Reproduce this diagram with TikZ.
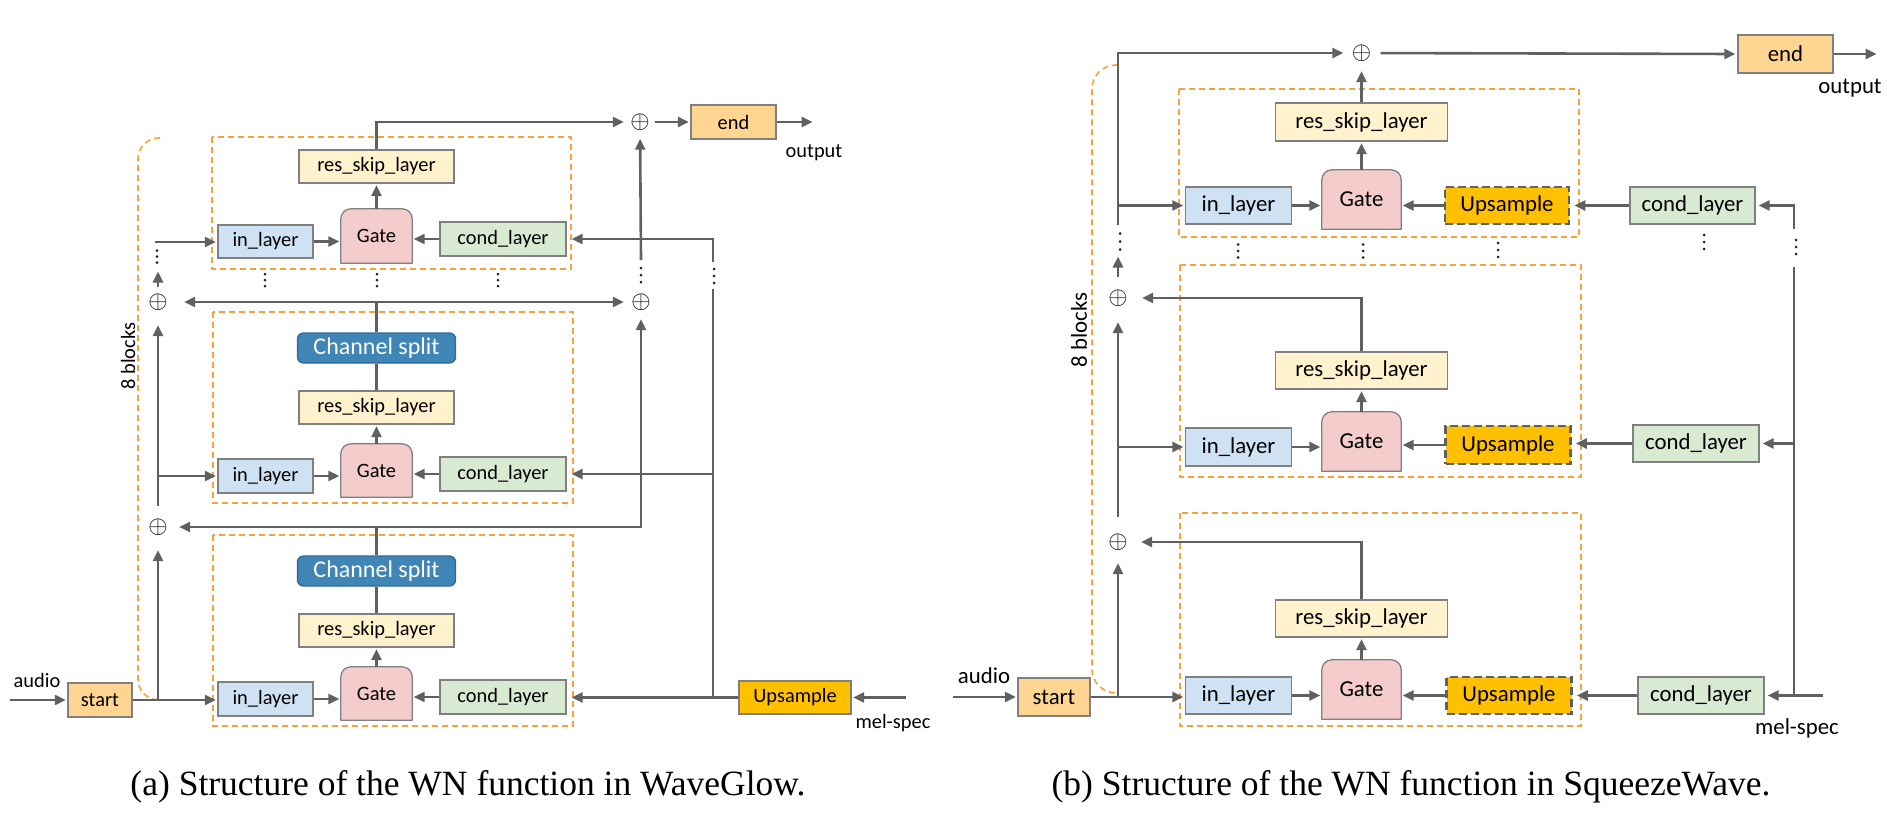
\documentclass[tikz,border=0pt]{standalone}
\usepackage{fontspec}
\setmainfont{Carlito}
\newfontfamily\capfont{Liberation Serif}
\usetikzlibrary{arrows.meta,backgrounds,calc}
\definecolor{conn}{HTML}{606060}
\definecolor{bord}{HTML}{808080}
\definecolor{inc}{HTML}{CFE2F3}
\definecolor{gatec}{HTML}{F4CCCC}
\definecolor{condc}{HTML}{D9EAD3}
\definecolor{resc}{HTML}{FFF2CC}
\definecolor{startc}{HTML}{FFD591}
\definecolor{upc}{HTML}{FFC000}
\definecolor{csc}{HTML}{3F85B5}
\definecolor{csb}{HTML}{2E6A96}
\definecolor{orng}{HTML}{F7A23A}
\definecolor{dotc}{HTML}{222222}
\newcommand{\gateshape}[1]{%
  \begin{pgfonlayer}{background}
  \draw[draw=bord, line width=1.3pt, fill=gatec, line join=round]
    (#1.south west) -- ([yshift=-10pt]#1.north west)
    .. controls ([yshift=-4.5pt]#1.north west) and ([xshift=4.5pt]#1.north west) .. ([xshift=10pt]#1.north west)
    -- ([xshift=-10pt]#1.north east)
    .. controls ([xshift=-4.5pt]#1.north east) and ([yshift=-4.5pt]#1.north east) .. ([yshift=-10pt]#1.north east)
    -- (#1.south east) -- cycle;
  \end{pgfonlayer}}
\newcommand{\vd}[3]{\fill[dotc] (#1,#2-#3) circle[radius=1.5pt] (#1,#2) circle[radius=1.5pt] (#1,#2+#3) circle[radius=1.5pt];}
\begin{document}
\begin{tikzpicture}[x=1pt,y=-1pt,
  conline/.style={draw=conn, line width=2.6pt},
  arr/.style={conline, -{Triangle[length=11pt,width=10pt]}, shorten >=1.5pt},
  blk/.style={draw=bord, line width=1.3pt, inner sep=0pt, text=black},
  sz/.style 2 args={minimum width=#1pt, minimum height=#2pt},
  inl/.style={blk, fill=inc},
  cnd/.style={blk, fill=condc},
  rsl/.style={blk, fill=resc},
  stt/.style={blk, fill=startc},
  ups/.style={blk, fill=upc},
  upd/.style={inner sep=0pt, fill=upc, draw=conn, line width=2.6pt, dash pattern=on 8pt off 4pt},
  gte/.style={inner sep=0pt},
  chs/.style={inner sep=0pt, fill=csc, draw=csb, line width=1.3pt, rounded corners=6pt, text=white, font=\fontsize{24pt}{28pt}\selectfont},
  pls/.style={circle, inner sep=0pt, minimum size=30pt, font=\fontsize{24pt}{28pt}\selectfont},
  odash/.style={draw=orng, line width=1.6pt, dash pattern=on 6pt off 4pt},
  lbl/.style={inner sep=0pt},
  fa/.style={font=\fontsize{20.4pt}{24pt}\selectfont},
  fb/.style={font=\fontsize{22.8pt}{27pt}\selectfont},
  captxt/.style={inner sep=0pt, anchor=base, font=\capfont\fontsize{35.5pt}{40pt}\selectfont}
]
\useasboundingbox (0,0) rectangle (1887,815);

% ================= (a) WaveGlow =================
\draw[odash] (212,137) rectangle (571,269);
\draw[odash] (213,312) rectangle (573,503);
\draw[odash] (213,535) rectangle (573,726);
\draw[odash, rounded corners=21pt] (160,138) -- (138,138) -- (138,700) -- (160,700);

\node[stt,fa,sz={64}{34}] (startA) at (100,700) {start};
\node[stt,fa,sz={85}{34}] (endA) at (733.5,122) {end};
\node[pls] (plA0) at (640,122) {$\oplus$};
\node[pls] (plA1) at (158,302) {$\oplus$};
\node[pls] (plA2) at (158,527) {$\oplus$};
\node[pls] (plA3) at (641,302) {$\oplus$};

\node[inl,fa,sz={95}{33}] (inA1) at (265.5,241.5) {in\_layer};
\node[gte,fa,sz={71}{54}] (gA1) at (376.5,236) {Gate};
\node[cnd,fa,sz={126}{34}] (cdA1) at (503,239) {cond\_layer};
\node[rsl,fa,sz={155}{33}] (rA1) at (376.5,166.5) {res\_skip\_layer};

\node[chs,sz={158}{30}] (csA2) at (376.5,348) {Channel split};
\node[rsl,fa,sz={155}{33}] (rA2) at (376.5,407.5) {res\_skip\_layer};
\node[gte,fa,sz={71}{53}] (gA2) at (376.5,470.5) {Gate};
\node[inl,fa,sz={95}{34}] (inA2) at (265.5,476) {in\_layer};
\node[cnd,fa,sz={126}{34}] (cdA2) at (503,474) {cond\_layer};

\node[chs,sz={158}{30}] (csA3) at (376.5,571) {Channel split};
\node[rsl,fa,sz={155}{33}] (rA3) at (376.5,630.5) {res\_skip\_layer};
\node[gte,fa,sz={71}{53}] (gA3) at (376.5,693.5) {Gate};
\node[inl,fa,sz={95}{34}] (inA3) at (265.5,699) {in\_layer};
\node[cnd,fa,sz={126}{34}] (cdA3) at (503,697) {cond\_layer};
\node[ups,fa,sz={112}{33}] (upA) at (795,697.5) {Upsample};

\gateshape{gA1}\gateshape{gA2}\gateshape{gA3}

\node[lbl,fa] (audioA) at (37,680) {audio};
\node[lbl,fa] (outputA) at (814,153) {output};
\node[lbl,fa] (melA) at (893,723) {mel-spec};
\node[lbl,fa,rotate=90] (blkA) at (128,356) {8 blocks};

\coordinate (audA) at (10,700);
\coordinate (outA) at (814,122);
\coordinate (melinA) at (906,697.5);
\coordinate (jA1) at (158,700);
\coordinate (tA1) at (158,270);
\coordinate (cA1) at (155,242);
\coordinate (tA3) at (641,260);
\coordinate (jA2) at (713,697.5);
\coordinate (tA4) at (713,289);
\coordinate (tA5) at (713,262);

\draw[arr] (audA) -- (startA.west);
\draw[arr] (startA.east) -- (startA.east -| inA3.west);
\draw[arr, shorten >=8pt] (jA1) -- (plA2);
\draw[arr, shorten <=6pt, shorten >=8pt] (plA2) -- (plA1);
\draw[arr] (plA2 |- inA2) -- (inA2.west);
\draw[arr] (plA1) -- (tA1);
\draw[arr] (cA1) -- (cA1 -| inA1.west);

\foreach \k in {1,2,3}{
  \draw[arr] (inA\k.east) -- (inA\k.east -| gA\k.west);
  \draw[arr] (cdA\k.west) -- (cdA\k.west -| gA\k.east);
  \draw[arr] (gA\k.north) -- (rA\k.south);
}
\draw[arr, shorten >=1pt] (rA1.north) |- (plA0);
\draw[arr] (plA0) -- (endA.west);
\draw[arr] (endA.east) -- (outA);

\draw[conline] (rA2.north) -- (csA2.south);
\draw[conline] (csA2.north) -- (csA2.north |- plA1);
\draw[arr, shorten >=11pt] (csA2.north |- plA1) -- (plA1);
\draw[arr, shorten >=2pt] (csA2.north |- plA1) -- (plA3);

\draw[conline] (rA3.north) -- (csA3.south);
\draw[conline] (csA3.north) -- (csA3.north |- plA2);
\draw[arr, shorten >=6pt] (csA3.north |- plA2) -- (plA2);
\draw[arr, shorten >=2pt] (csA3.north |- plA2) -| (plA3);
\draw[arr] (tA3) -- (plA0);

\draw[arr] (melinA) -- (upA.east);
\draw[arr, shorten >=5pt] (upA.west) -- (upA.west -| cdA3.east);
\draw[conline] (jA2) -- (tA4);
\draw[arr, shorten >=5pt] (jA2 |- cdA2) -- (cdA2.east);
\draw[arr, shorten >=5pt] (tA5) |- (cdA1.east);

\vd{157}{256.5}{6}
\vd{265}{280}{6}\vd{377}{280}{6}\vd{498}{280}{6}
\vd{641}{275}{7}\vd{714}{276}{7}

\node[captxt] (capA) at (468,795) {(a) Structure of the WN function in WaveGlow.};

% ================= (b) SqueezeWave =================
\draw[odash] (1179,89) rectangle (1579,237);
\draw[odash] (1180,265) rectangle (1581,477);
\draw[odash] (1180,513) rectangle (1581,726);
\draw[odash, rounded corners=24pt] (1118,65) -- (1092,65) -- (1092,693) -- (1118,693);

\node[stt,fb,sz={72}{38}] (startB) at (1054,697) {start};
\node[stt,fb,sz={95}{38}] (endB) at (1785.5,54) {end};
\node[pls] (plB0) at (1361.5,53) {$\oplus$};
\node[pls] (plB1) at (1118,298) {$\oplus$};
\node[pls] (plB2) at (1118,542) {$\oplus$};

\node[rsl,fb,sz={172}{38}] (rB1) at (1361.5,122) {res\_skip\_layer};
\node[inl,fb,sz={106}{37}] (inB1) at (1238.5,205.5) {in\_layer};
\node[gte,fb,sz={79}{59}] (gB1) at (1361.5,199.5) {Gate};
\node[upd,fb,sz={124}{37}] (upB1) at (1507,205.5) {Upsample};
\node[cnd,fb,sz={125}{37}] (cdB1) at (1692.5,205.5) {cond\_layer};

\node[rsl,fb,sz={172}{37}] (rB2) at (1361.5,370.5) {res\_skip\_layer};
\node[gte,fb,sz={79}{59}] (gB2) at (1361.5,441.5) {Gate};
\node[inl,fb,sz={106}{38}] (inB2) at (1238.5,447) {in\_layer};
\node[upd,fb,sz={125}{38}] (upB2) at (1508,445) {Upsample};
\node[cnd,fb,sz={126}{37}] (cdB2) at (1696,443.5) {cond\_layer};

\node[rsl,fb,sz={172}{37}] (rB3) at (1361.5,618.5) {res\_skip\_layer};
\node[gte,fb,sz={79}{59}] (gB3) at (1361.5,689.5) {Gate};
\node[inl,fb,sz={106}{37}] (inB3) at (1238.5,695.5) {in\_layer};
\node[upd,fb,sz={125}{37}] (upB3) at (1509,695.5) {Upsample};
\node[cnd,fb,sz={126}{37}] (cdB3) at (1701,695.5) {cond\_layer};

\gateshape{gB1}\gateshape{gB2}\gateshape{gB3}

\node[lbl,fb] (audioB) at (984,676) {audio};
\node[lbl,fb] (outputB) at (1850,88) {output};
\node[lbl,fb] (melB) at (1797,728) {mel-spec};
\node[lbl,fb,rotate=90] (blkB) at (1079,330) {8 blocks};

\coordinate (audB) at (953,697);
\coordinate (outB) at (1878,54);
\coordinate (melinB) at (1823,695.5);
\coordinate (jB1) at (1118,697);
\coordinate (tB1) at (1118,255);
\coordinate (tB2) at (1118,225);
\coordinate (jB2) at (1794,695.5);
\coordinate (tB3) at (1794,267);
\coordinate (tB4) at (1794,229);

\draw[arr] (audB) -- (startB.west);
\draw[arr] (startB.east) -- (startB.east -| inB3.west);
\draw[arr, shorten >=6pt] (jB1) -- (plB2);
\draw[arr, shorten >=8pt] (rB3.north) |- (plB2);
\draw[arr, shorten <=10pt, shorten >=9pt] (plB2) -- (plB1);
\draw[arr] (plB2 |- inB2) -- (inB2.west);
\draw[arr, shorten >=9pt] (rB2.north) |- (plB1);
\draw[arr, shorten <=6pt] (plB1) -- (tB1);
\draw[arr, shorten >=3pt] (tB2) |- (plB0);
\draw[arr] (tB2 |- inB1) -- (inB1.west);
\draw[arr, shorten >=3pt] (rB1.north) -- (plB0);
\draw[arr, shorten <=4pt, shorten >=2pt] (plB0) -- (endB.west);
\draw[arr] (endB.east) -- (outB);

\foreach \k in {1,2,3}{
  \draw[arr] (inB\k.east) -- (inB\k.east -| gB\k.west);
  \draw[arr] (upB\k.west) -- (upB\k.west -| gB\k.east);
  \draw[arr] (gB\k.north) -- (rB\k.south);
  \draw[arr, shorten >=4pt] (cdB\k.west) -- (cdB\k.west -| upB\k.east);
}

\draw[arr, shorten >=3pt] (melinB) -- (cdB3.east);
\draw[conline] (jB2) -- (tB3);
\draw[arr, shorten >=3pt] (jB2 |- cdB2) -- (cdB2.east);
\draw[arr, shorten >=3pt] (tB4) |- (cdB1.east);

\vd{1120}{241.5}{8}
\vd{1238}{251}{6.5}\vd{1363}{251}{6.5}\vd{1498}{250}{7}
\vd{1704}{242}{7}\vd{1796}{247}{7}

\node[captxt] (capB) at (1411,795) {(b) Structure of the WN function in SqueezeWave.};
\end{tikzpicture}
\end{document}
